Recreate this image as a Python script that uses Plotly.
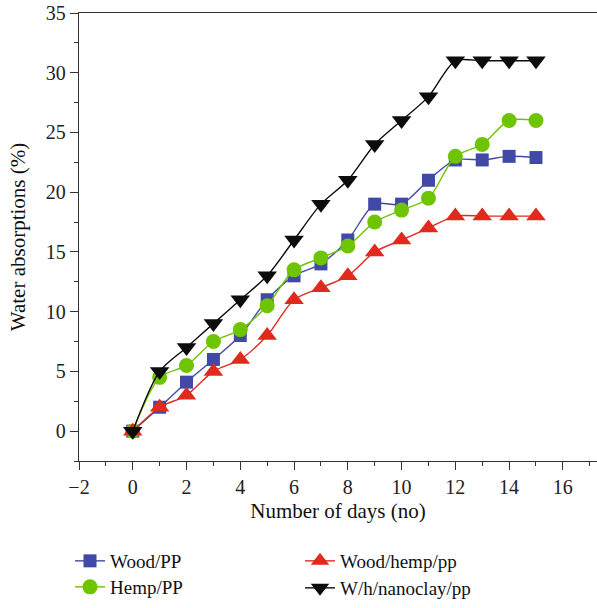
import plotly.graph_objects as go

days = list(range(16))
wood_pp = [0, 2.0, 4.1, 6.0, 8.0, 11.0, 13.0, 14.0, 16.0, 19.0, 19.0, 21.0, 22.7, 22.7, 23.0, 22.9]
hemp_pp = [0, 4.5, 5.5, 7.5, 8.5, 10.5, 13.5, 14.5, 15.5, 17.5, 18.5, 19.5, 23.0, 24.0, 26.0, 26.0]
wood_hemp_pp = [0, 2.0, 3.0, 5.0, 6.0, 8.0, 11.0, 12.0, 13.0, 15.0, 16.0, 17.0, 18.0, 18.0, 18.0, 18.0]
nanoclay_pp = [0, 5.0, 7.0, 9.0, 11.0, 13.0, 16.0, 19.0, 21.0, 24.0, 26.0, 28.0, 31.0, 31.0, 31.0, 31.0]

series = [
    ("Wood/PP", wood_pp, "#4149A6", "square", 13, "legend"),
    ("Hemp/PP", hemp_pp, "#6FC400", "circle", 15, "legend2"),
    ("Wood/hemp/pp", wood_hemp_pp, "#E02A1E", "triangle-up", 17, "legend3"),
    ("W/h/nanoclay/pp", nanoclay_pp, "#0C0C0C", "triangle-down", 17, "legend4"),
]

FONT = "Liberation Serif"
fig = go.Figure()
for name, vals, color, sym, size, leg in series:
    fig.add_trace(go.Scatter(
        x=days, y=vals, name=name, mode="lines+markers",
        line=dict(color=color, width=1.4, shape="spline", smoothing=0.8),
        marker=dict(symbol=sym, size=size, color=color, line=dict(width=0)),
        legend=leg,
    ))

W, H = 597, 608
ml, mr, mt, mb = 79, 0, 13, 147
pw, ph = W - ml - mr, H - mt - mb

def px2paper(xp, yp):
    return (xp - ml) / pw, (H - mb - yp) / ph

legend_common = dict(font=dict(family=FONT, size=19, color="#111"), bgcolor="rgba(0,0,0,0)",
                     xanchor="left", yanchor="middle", borderwidth=0, itemwidth=30)
pos = {"legend": (70, 561), "legend2": (70, 587), "legend3": (300, 561), "legend4": (300, 588)}
legs = {}
for k, (xp, yp) in pos.items():
    x, y = px2paper(xp, yp)
    legs[k] = dict(legend_common, x=x, y=y)

axis_common = dict(showline=True, linecolor="#333", linewidth=1.3, ticks="outside",
                   tickcolor="#333", tickwidth=1.3, ticklen=8, showgrid=False, zeroline=False,
                   tickfont=dict(family=FONT, size=20, color="#222"))

fig.update_layout(
    width=W, height=H, margin=dict(l=ml, r=mr, t=mt, b=mb),
    plot_bgcolor="white", paper_bgcolor="white",
    xaxis=dict(axis_common, range=[-2, 17.27], dtick=2, tick0=0, mirror=True,
               minor=dict(dtick=1, ticks="outside", ticklen=4, tickcolor="#333", tickwidth=1.3),
               title=dict(text="Number of days (no)", font=dict(family=FONT, size=21, color="#111"), standoff=6)),
    yaxis=dict(axis_common, range=[-2.5, 35], dtick=5, tick0=0,
               minor=dict(dtick=2.5, ticks="outside", ticklen=4, tickcolor="#333", tickwidth=1.3),
               title=dict(text="Water absorptions (%)", font=dict(family=FONT, size=21, color="#111"), standoff=14)),
    showlegend=True,
    **legs,
)

fig.write_html("out.html", config={"displayModeBar": False},
               post_script="document.body.style.margin='0';document.body.style.overflow='hidden';")
